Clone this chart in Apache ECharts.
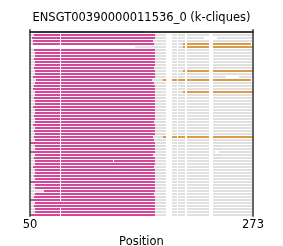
<!DOCTYPE html>
<html><head><meta charset="utf-8">
<script src="https://cdn.jsdelivr.net/npm/echarts@6/dist/echarts.min.js"></script>
<style>html,body{margin:0;padding:0;background:#fff}#c{width:283px;height:246px}</style>
</head><body><div id="c"></div>
<script>
const titleText = 'ENSGT00390000011536_0 (k-cliques)';
const xLabel = 'Position';
const xMin = 50, xMax = 273;
const rowStart = [51,51,51,51,51,155,51,51,51,51,51,51,51,51,51,51,51,51,51,51,51,51,51,51,51,51,51,51,51,51,51,51,51,51,51,51,51,50,51,51,50,51,51,51,51,51,51,51,51,51,50,51,51,51,51,51,50,51,51,51,51,50];
const rowEnd = [270,272,272,272,271,273,272,272,272,272,272,272,272,273,272,272,271,272,272,272,273,272,272,272,272,272,272,272,272,272,272,272,272,272,272,273,272,272,272,272,272,272,272,272,272,272,272,272,272,272,272,272,272,272,272,272,272,272,272,272,272,272];
const magStart = [56,54,52,53,53,null,54,55,55,54,55,55,54,55,55,53,56,55,54,53,55,55,54,55,55,53,55,55,54,55,55,53,55,54,55,54,55,50,55,55,50,55,54,55,55,53,55,55,54,55,50,55,55,64,55,54,50,55,54,55,55,50];
const magEnd = [166,175,175,173,174,null,175,175,175,175,175,175,174,175,175,175,172,174,175,175,175,175,175,175,175,175,175,175,175,175,174,175,175,175,175,173,174,175,175,175,175,173,175,175,175,174,175,175,175,175,175,175,175,175,174,175,175,175,175,175,175,175];
const orangeRows  = [0,4,5,13,16,20,35];
const orangeStart = [183,203,203,203,183,203,183];
const orangeEnd   = [268,271,273,273,271,273,273];
const commonGaps = [[186,192],[197,198],[205,207],[229,233]];
const midGap = [80,81];
const noMidGapRows = [5,57,58];
const extraGapRows  = [43,2,15,40];
const extraGapStart = [133,224,246,235];
const extraGapEnd   = [134,237,259,239];
const colors = ['#e0e0e0','#d5479a','#d99b45'];

function cut(iv, a, b){
  const out = [];
  iv.forEach(s => {
    if (s[1] <= a || s[0] >= b) { out.push(s); return; }
    if (s[0] < a) out.push([s[0], a, s[2]]);
    if (s[1] > b) out.push([b, s[1], s[2]]);
  });
  return out;
}
const segs = [];
for (let i = 0; i < rowStart.length; i++) {
  let iv = [];
  if (magStart[i] != null) {
    if (rowStart[i] < magStart[i]) iv.push([rowStart[i], magStart[i], 0]);
    iv.push([magStart[i], magEnd[i], 1]);
    iv.push([magEnd[i], rowEnd[i], 0]);
  } else iv.push([rowStart[i], rowEnd[i], 0]);
  const oi = orangeRows.indexOf(i);
  if (oi >= 0) { iv = cut(iv, orangeStart[oi], orangeEnd[oi]); iv.push([orangeStart[oi], orangeEnd[oi], 2]); }
  commonGaps.forEach(g => { iv = cut(iv, g[0], g[1]); });
  if (noMidGapRows.indexOf(i) < 0) iv = cut(iv, midGap[0], midGap[1]);
  extraGapRows.forEach((r, k) => { if (r === i) iv = cut(iv, extraGapStart[k], extraGapEnd[k]); });
  iv.forEach(s => segs.push([i, s[0], s[1], s[2]]));
}
const nRows = rowStart.length;
const frame = {show:true, lineStyle:{color:'rgba(50,50,50,0.75)', width:2}};
const chart = echarts.init(document.getElementById('c'), null, {renderer:'canvas'});
chart.setOption({
  animation:false,
  title:{text:titleText, left:'center', top:12, itemGap:0, padding:0,
    textStyle:{fontFamily:'DejaVu Sans', fontSize:11.5, fontWeight:'normal', color:'#000'}},
  grid:{left:30, right:30, top:30, bottom:30, containLabel:false, outerBoundsMode:'none'},
  xAxis:[
    {type:'value', min:xMin, max:xMax, interval:xMax-xMin, position:'bottom', z:10,
     axisLine:frame, axisTick:{show:false}, splitLine:{show:false},
     axisLabel:{fontFamily:'DejaVu Sans', fontSize:11.5, color:'#000', margin:3},
     name:xLabel, nameLocation:'middle', nameGap:14,
     nameTextStyle:{fontFamily:'DejaVu Sans', fontSize:11.5, color:'#000'}},
    {type:'value', min:xMin, max:xMax, position:'top', z:10,
     axisLine:frame, axisTick:{show:false}, splitLine:{show:false}, axisLabel:{show:false}}
  ],
  yAxis:[
    {type:'value', min:-2/3, max:nRows-2/3, inverse:true, position:'left', z:10,
     axisLine:frame, axisTick:{show:false}, splitLine:{show:false}, axisLabel:{show:false}},
    {type:'value', min:-2/3, max:nRows-2/3, inverse:true, position:'right', z:10,
     axisLine:frame, axisTick:{show:false}, splitLine:{show:false}, axisLabel:{show:false}}
  ],
  series:[{
    type:'custom', xAxisIndex:0, yAxisIndex:0, z:2,
    encode:{x:[1,2], y:0},
    data:segs,
    renderItem:function(params, api){
      const r = api.value(0), a = api.value(1), b = api.value(2), c = api.value(3);
      const p1 = api.coord([a, r]), p2 = api.coord([b, r]);
      return {type:'rect', shape:{x:p1[0], y:Math.round(p1[1]) - 1, width:p2[0]-p1[0], height:2},
        style:{fill:colors[c]}};
    }
  }]
});
</script></body></html>
